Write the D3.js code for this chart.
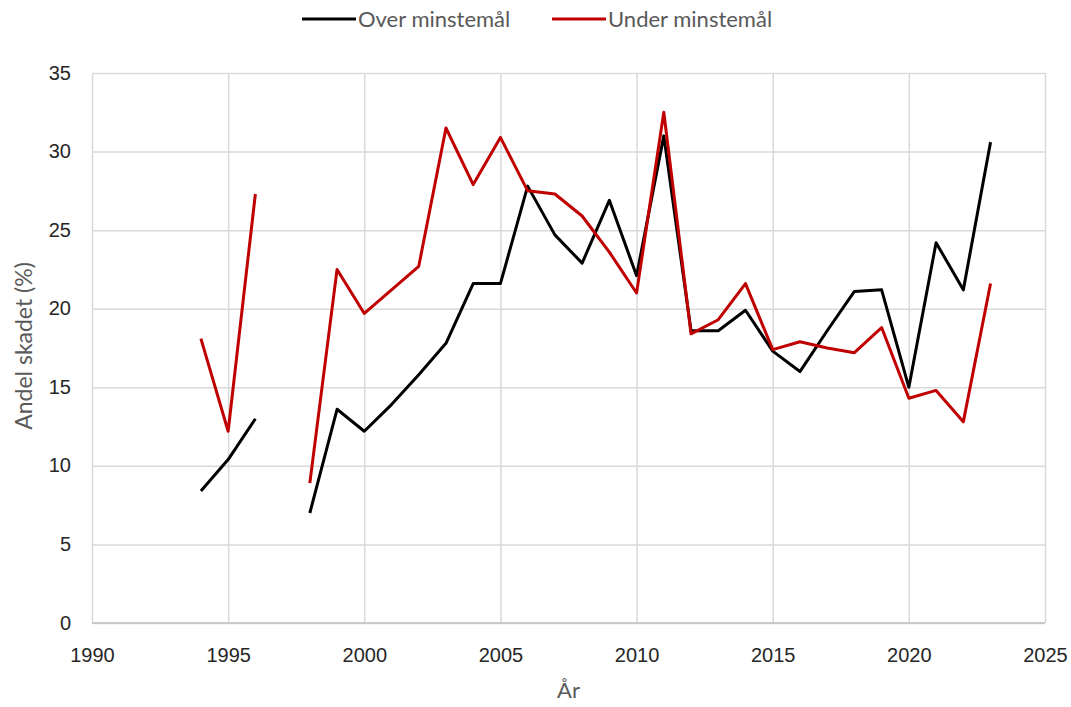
<!DOCTYPE html>
<html>
<head>
<meta charset="utf-8">
<script src="https://cdn.jsdelivr.net/npm/d3@7"></script>
<style>
  body { margin: 0; background: #fff; }
  svg { font-family: Lato, "Open Sans", sans-serif; }
  .tick text { fill: #262626; font-size: 20px; }
  .axis-label { fill: #595959; font-size: 22px; }
  .legend text { fill: #595959; font-size: 22px; }
</style>
</head>
<body>
<svg width="1071" height="707"></svg>
<script>
const years = [1994, 1995, 1996, 1997, 1998, 1999, 2000, 2001, 2002, 2003, 2004, 2005, 2006, 2007, 2008,
  2009, 2010, 2011, 2012, 2013, 2014, 2015, 2016, 2017, 2018, 2019, 2020, 2021, 2022, 2023];
const over = [8.4, 10.4, 13.0, null, 7.0, 13.6, 12.2, 13.9, 15.8, 17.8, 21.6, 21.6, 27.8, 24.7, 22.9,
  26.9, 22.1, 31.0, 18.6, 18.6, 19.9, 17.3, 16.0, 18.6, 21.1, 21.2, 15.0, 24.2, 21.2, 30.6];
const under = [18.1, 12.2, 27.3, null, 8.9, 22.5, 19.7, 21.2, 22.7, 31.5, 27.9, 30.9, 27.5, 27.3, 25.9,
  23.6, 21.0, 32.5, 18.4, 19.3, 21.6, 17.4, 17.9, 17.5, 17.2, 18.8, 14.3, 14.8, 12.8, 21.6];
const seriesNames = ['Over minstemål', 'Under minstemål'];
const colors = ['#000000', '#c00000'];
const xTicks = [1990, 1995, 2000, 2005, 2010, 2015, 2020, 2025];
const yTicks = [0, 5, 10, 15, 20, 25, 30, 35];

const svg = d3.select('svg');
const margin = { top: 73, right: 26, bottom: 84, left: 92 };
const width = +svg.attr('width');
const height = +svg.attr('height');
const innerWidth = width - margin.left - margin.right;
const innerHeight = height - margin.top - margin.bottom;

const xScale = d3.scaleLinear().domain([1990, 2025]).range([0, innerWidth]);
const yScale = d3.scaleLinear().domain([0, 35]).range([innerHeight, 0]);

const g = svg.append('g')
  .attr('transform', `translate(${margin.left},${margin.top})`);

// grid
const xAxisG = g.append('g')
  .attr('transform', `translate(0,${innerHeight})`)
  .call(d3.axisBottom(xScale).tickValues(xTicks).tickFormat(d3.format('d'))
    .tickSize(-innerHeight).tickPadding(25));
xAxisG.select('.domain').remove();
xAxisG.selectAll('.tick line').attr('stroke', '#d9d9d9').attr('stroke-width', 1.5);

const yAxisG = g.append('g')
  .call(d3.axisLeft(yScale).tickValues(yTicks)
    .tickSize(-innerWidth).tickPadding(21));
yAxisG.select('.domain').remove();
yAxisG.selectAll('.tick line').attr('stroke', '#d9d9d9').attr('stroke-width', 1.5);
yAxisG.selectAll('.tick text').attr('dy', '0.3em');

g.append('line')
  .attr('x1', 0).attr('x2', innerWidth)
  .attr('y1', innerHeight).attr('y2', innerHeight)
  .attr('stroke', '#bfbfbf').attr('stroke-width', 1.5);

// lines
const lineGen = line => d3.line()
  .defined(d => d != null)
  .x((d, i) => xScale(years[i]))
  .y(d => yScale(d))(line);

[over, under].forEach((s, i) => {
  g.append('path')
    .attr('d', lineGen(s))
    .attr('fill', 'none')
    .attr('stroke', colors[i])
    .attr('stroke-width', 3)
    .attr('stroke-linejoin', 'round');
});

// axis titles
g.append('text')
  .attr('class', 'axis-label')
  .attr('x', innerWidth / 2)
  .attr('y', innerHeight + 75)
  .attr('text-anchor', 'middle')
  .text('År');

g.append('text')
  .attr('class', 'axis-label')
  .attr('transform', 'rotate(-90)')
  .attr('x', -innerHeight / 2 + 2)
  .attr('y', -60)
  .attr('text-anchor', 'middle')
  .style('font-size', '23px')
  .text('Andel skadet (%)');

// legend
const legend = svg.append('g').attr('class', 'legend');
const legendX = [302, 552];
seriesNames.forEach((name, i) => {
  const lg = legend.append('g').attr('transform', `translate(${legendX[i]},19)`);
  lg.append('line')
    .attr('x1', 0).attr('x2', 54)
    .attr('stroke', colors[i]).attr('stroke-width', 3);
  lg.append('text')
    .attr('x', 56).attr('dy', '0.35em')
    .text(name);
});
</script>
</body>
</html>
